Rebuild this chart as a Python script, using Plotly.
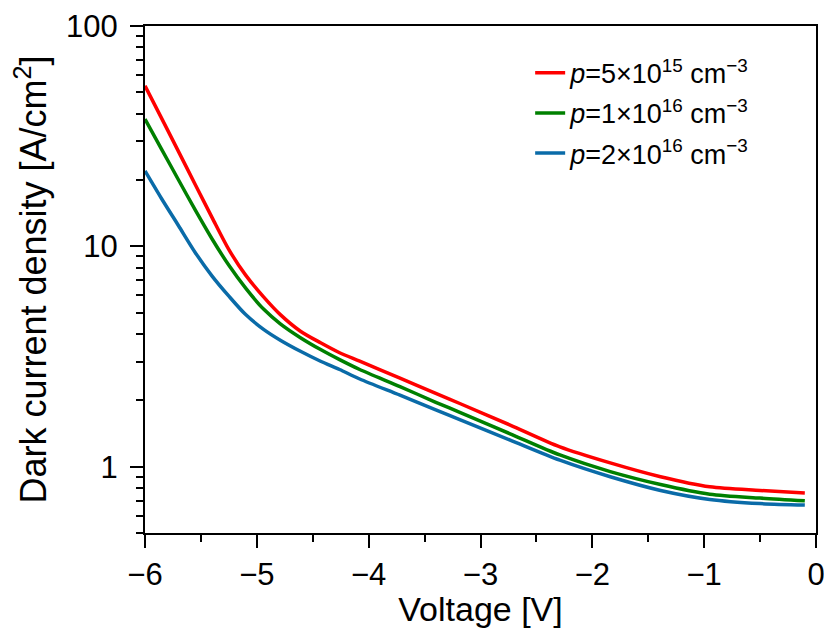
import plotly.graph_objects as go

# voltage points
voltage = [-6.0, -5.85, -5.7, -5.55, -5.4, -5.25, -5.1, -4.94, -4.79, -4.61, -4.43,
           -4.26, -4.08, -3.72, -3.4, -3.18, -2.735, -2.29, -1.84, -1.39, -0.95, -0.5, -0.1]

# dark current density [A/cm2] for each doping level
j_5e15 = [53.5, 38.0, 26.9, 19.05, 13.5, 9.66, 7.4, 5.9, 4.9, 4.12, 3.65,
          3.29, 3.01, 2.52, 2.15, 1.93, 1.545, 1.23, 1.04, 0.90, 0.81, 0.78, 0.76]
j_1e16 = [37.8, 27.5, 20.0, 14.6, 10.8, 8.2, 6.46, 5.19, 4.45, 3.85, 3.40,
          3.06, 2.76, 2.31, 1.96, 1.76, 1.41, 1.13, 0.95, 0.83, 0.75, 0.72, 0.70]
j_2e16 = [22.0, 16.4, 12.4, 9.36, 7.33, 5.94, 4.9, 4.2, 3.75, 3.34, 3.01,
          2.76, 2.50, 2.11, 1.81, 1.63, 1.32, 1.07, 0.90, 0.78, 0.71, 0.68, 0.67]

names = ['<i>p</i>=5×10<sup>15</sup> cm<sup>−3</sup>',
         '<i>p</i>=1×10<sup>16</sup> cm<sup>−3</sup>',
         '<i>p</i>=2×10<sup>16</sup> cm<sup>−3</sup>']
colors = ['#FF0000', '#008000', '#0A6BA8']

font = 'Arial, Liberation Sans, sans-serif'

fig = go.Figure()
for i, (y, name, c) in enumerate(zip([j_5e15, j_1e16, j_2e16], names, colors)):
    fig.add_trace(go.Scatter(x=voltage, y=y, name=name, mode='lines', legendgroup=str(i),
                             line=dict(color=c, width=3.5, shape='spline', smoothing=0.8)))

# page body adds an 8px offset, so the figure is a bit smaller than the window
fig.update_layout(
    width=820, height=620,
    margin=dict(l=137, r=12, t=18, b=95),
    plot_bgcolor='white', paper_bgcolor='white',
    font=dict(family=font, size=31, color='black'),
    legend=dict(x=0.574, y=0.955, xanchor='left', yanchor='top',
                font=dict(size=27), bgcolor='rgba(0,0,0,0)',
                tracegroupgap=2),
)

fig.update_xaxes(
    range=[-6, 0], dtick=1, showgrid=False, zeroline=False, automargin=False,
    showline=True, linecolor='black', linewidth=2, mirror=True,
    ticks='outside', ticklen=13, tickwidth=2, tickcolor='black',
    ticklabelstandoff=0,
    minor=dict(ticks='outside', ticklen=7, tickwidth=2, tickcolor='black', dtick=0.5),
    title=dict(text='Voltage [V]', standoff=2, font=dict(size=34)),
)
fig.update_yaxes(
    type='log', range=[-0.301, 2], dtick=1, showgrid=False, zeroline=False, automargin=False,
    showline=True, linecolor='black', linewidth=2, mirror=True,
    ticks='outside', ticklen=13, tickwidth=2, tickcolor='black',
    ticklabelstandoff=6,
    minor=dict(ticks='outside', ticklen=7, tickwidth=2, tickcolor='black', dtick='D1'),
    title=dict(text='Dark current density [A/cm<sup>2</sup>]', standoff=21, font=dict(size=36)),
)

fig.write_html('out.html')
